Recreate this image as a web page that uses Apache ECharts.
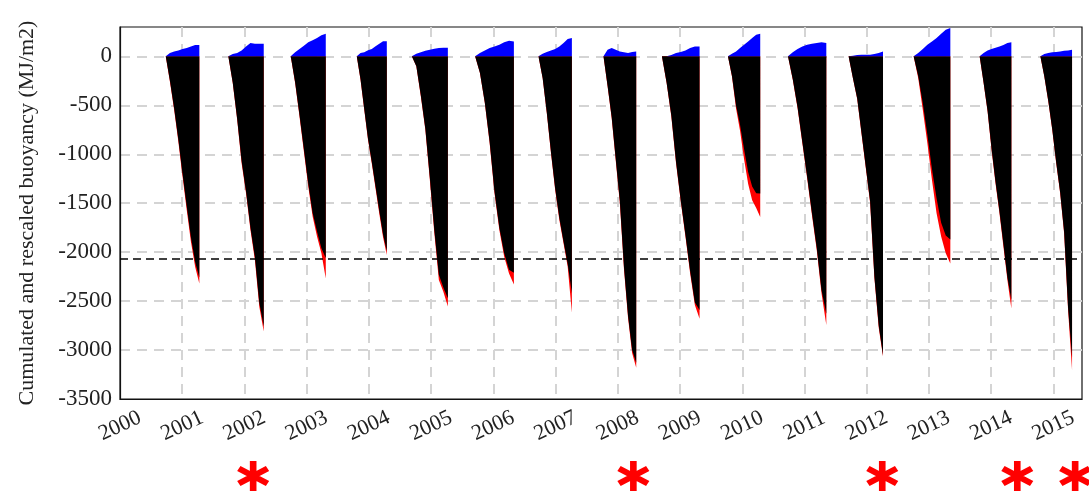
<!DOCTYPE html>
<html>
<head>
<meta charset="utf-8">
<script src="https://cdn.jsdelivr.net/npm/echarts@6/dist/echarts.min.js"></script>
<style>
html,body{margin:0;padding:0;background:#fff;}
#c{width:1089px;height:491px;}
</style>
</head>
<body>
<div id="c"></div>
<script>
// Winters (year of the end of each winter)
const winterYears = [2001,2002,2003,2004,2005,2006,2007,2008,2009,2010,2011,2012,2013,2014,2015];
const winterStart = [2000.735,2001.741,2002.744,2003.805,2004.690,2005.707,2006.725,2007.770,2008.709,2009.770,2010.735,2011.709,2012.754,2013.815,2014.791];
const winterEnd   = [2001.275,2002.310,2003.307,2004.288,2005.269,2006.330,2007.262,2008.296,2009.314,2010.289,2011.351,2012.262,2013.344,2014.325,2015.300];

// Cumulated buoyancy, 9 readings per winter (evenly spaced from start to end)
const blackVals = [
  [0,-250,-530,-850,-1200,-1530,-1850,-2100,-2260],
  [0,-270,-640,-1070,-1380,-1750,-2050,-2520,-2760],
  [0,-265,-600,-950,-1300,-1600,-1790,-1960,-2060],
  [0,-235,-540,-845,-1080,-1330,-1580,-1820,-1990],
  [0,-100,-400,-740,-1240,-1780,-2230,-2360,-2470],
  [0,-170,-470,-875,-1380,-1750,-2010,-2180,-2210],
  [0,-220,-575,-980,-1350,-1650,-1890,-2120,-2420],
  [0,-300,-620,-1050,-1480,-2150,-2650,-3000,-3130],
  [0,-270,-605,-1080,-1470,-1825,-2195,-2515,-2590],
  [0,-200,-500,-700,-950,-1180,-1330,-1398,-1400],
  [0,-235,-520,-875,-1230,-1600,-1955,-2390,-2630],
  [0,-220,-430,-780,-1130,-1480,-2250,-2750,-3050],
  [0,-200,-480,-800,-1150,-1450,-1700,-1830,-1870],
  [0,-270,-555,-940,-1280,-1585,-1920,-2260,-2490],
  [0,-205,-455,-745,-1085,-1390,-1795,-2570,-3070]
];
const redVals = [
  [0,-260,-546,-870,-1228,-1569,-1893,-2148,-2320],
  [0,-273,-648,-1091,-1398,-1773,-2080,-2558,-2810],
  [0,-273,-614,-972,-1330,-1637,-1841,-2012,-2270],
  [0,-239,-547,-855,-1094,-1351,-1607,-1847,-2030],
  [0,-102,-409,-750,-1262,-1807,-2285,-2404,-2555],
  [0,-171,-477,-887,-1398,-1773,-2046,-2217,-2330],
  [0,-222,-580,-989,-1364,-1671,-1909,-2148,-2620],
  [0,-305,-630,-1065,-1500,-2170,-2670,-3030,-3180],
  [0,-273,-614,-1091,-1483,-1841,-2217,-2540,-2680],
  [0,-205,-529,-760,-1050,-1300,-1470,-1550,-1640],
  [0,-239,-529,-887,-1245,-1620,-1978,-2421,-2745],
  [0,-222,-435,-790,-1140,-1495,-2265,-2770,-3065],
  [0,-222,-546,-887,-1262,-1603,-1841,-2012,-2115],
  [0,-273,-563,-955,-1296,-1603,-1944,-2285,-2575],
  [0,-205,-460,-750,-1091,-1398,-1807,-2592,-3205]
];
const blueVals = [
  [0,34,51,61,75,85,102,116,116],
  [0,24,34,61,102,136,130,130,130],
  [0,41,75,109,143,164,188,215,232],
  [0,34,41,62,75,103,130,154,154],
  [0,27,41,58,68,78,85,89,89],
  [0,34,61,85,102,119,143,160,153],
  [0,27,44,61,75,102,136,177,188],
  [0,68,85,68,51,41,34,44,51],
  [0,0,14,34,44,61,85,102,102],
  [0,27,51,85,119,153,188,222,232],
  [0,41,75,102,119,130,136,143,136],
  [0,7,14,17,17,17,24,34,51],
  [0,34,75,119,153,188,232,273,290],
  [0,34,61,75,89,102,116,136,143],
  [0,24,34,41,44,51,58,61,68]
];
const thresholdValue = -2070;
const asteriskYears = [2002.14, 2008.25, 2012.25, 2014.42, 2015.35];
const yTicks = [0,-500,-1000,-1500,-2000,-2500,-3000,-3500];
const xTicks = [2000,2001,2002,2003,2004,2005,2006,2007,2008,2009,2010,2011,2012,2013,2014,2015];

function buildSeriesData(vals){
  const out = [];
  for (let i = 0; i < winterYears.length; i++){
    const s = winterStart[i], e = winterEnd[i], v = vals[i], n = v.length - 1;
    for (let k = 0; k <= n; k++) out.push([s + (e - s) * k / n, v[k]]);
    out.push([e + 0.02, null]);
  }
  return out;
}

const asteriskPath = 'path://M-3 -15L3 -15L3 15L-3 15Z M-14.49 -4.9L-11.49 -10.1L14.49 4.9L11.49 10.1Z M11.49 -10.1L14.49 -4.9L-11.49 10.1L-14.49 4.9Z';

const chart = echarts.init(document.getElementById('c'), null, {renderer:'canvas'});
const gridLine = {show:true, showMinLine:false, showMaxLine:false, lineStyle:{color:'#d4d4d4', width:2, type:[10,7]}};
const labelFont = {fontFamily:'"Liberation Serif", "DejaVu Serif", serif', color:'#222'};

function areaSeries(name, vals, color, z){
  return {
    name, type:'line', xAxisIndex:0, yAxisIndex:0,
    data: buildSeriesData(vals),
    showSymbol:false, symbol:'none', connectNulls:false, smooth:false,
    lineStyle:{width:0, color},
    areaStyle:{color, opacity:1, origin:0},
    itemStyle:{color},
    z, silent:true, animation:false
  };
}

const redSeries = areaSeries('red', redVals, '#ff0000', 2);
const blackSeries = areaSeries('black', blackVals, '#000000', 3);
const blueSeries = areaSeries('blue', blueVals, '#0000ff', 4);
blackSeries.markLine = {
  silent:true, symbol:['none','none'], label:{show:false},
  lineStyle:{color:'#000', width:1.6, type:[8,5]},
  data:[{yAxis: thresholdValue}]
};

chart.setOption({
  animation:false,
  backgroundColor:'#fff',
  grid:[
    {left:120, right:7, top:27, bottom:92, show:true, borderColor:'#111', borderWidth:1.2, backgroundColor:'transparent'},
    {left:120, right:7, top:461, height:30}
  ],
  xAxis:[
    {
      type:'value', gridIndex:0, min:2000, max:2015.46, interval:1,
      axisLine:{show:true, onZero:false, lineStyle:{color:'#111', width:1.2}},
      axisTick:{show:false},
      splitLine:gridLine,
      axisLabel:Object.assign({
        fontSize:22, rotate:25, margin:27, align:'center', verticalAlign:'middle',
        showMaxLabel:false,
        formatter: v => xTicks.indexOf(Math.round(v)) >= 0 && Math.abs(v - Math.round(v)) < 1e-6 ? String(Math.round(v)) : ''
      }, labelFont)
    },
    {type:'value', gridIndex:1, min:2000, max:2015.46, show:false}
  ],
  yAxis:[
    {
      type:'value', gridIndex:0, min:-3500, max:300, interval:500,
      name:'Cumulated and rescaled buoyancy (MJ/m2)', nameLocation:'middle', nameGap:82,
      nameTextStyle:Object.assign({fontSize:22}, labelFont),
      axisLine:{show:true, onZero:false, lineStyle:{color:'#111', width:1.2}},
      axisTick:{show:false},
      splitLine:gridLine,
      axisLabel:Object.assign({
        fontSize:23, margin:8, showMaxLabel:false,
        formatter: v => yTicks.indexOf(v) >= 0 ? String(v) : ''
      }, labelFont)
    },
    {type:'value', gridIndex:1, min:-1, max:1, show:false}
  ],
  series:[
    redSeries, blackSeries, blueSeries,
    {
      name:'asterisks', type:'scatter', xAxisIndex:1, yAxisIndex:1,
      data: asteriskYears.map(y => [y, 0]),
      symbol: asteriskPath, symbolSize:[32,30],
      itemStyle:{color:'#ff0000', opacity:1}, silent:true, clip:false
    }
  ]
});
</script>
</body>
</html>
